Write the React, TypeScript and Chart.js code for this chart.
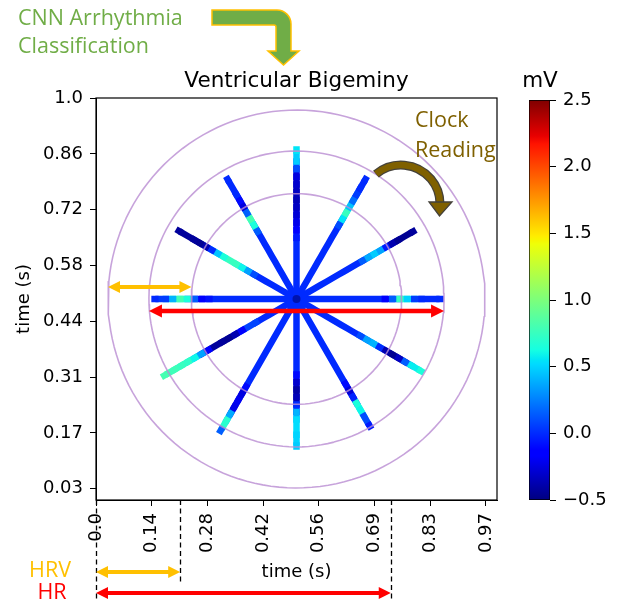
import React, { useEffect, useRef } from 'react';
import { Chart, registerables } from 'chart.js';

Chart.register(...registerables);

// ---------- axis ticks ----------
const xTickValues = [0, 0.1389, 0.2778, 0.4167, 0.5556, 0.6944, 0.8333, 0.9722];
const xTickLabels = ['0.0', '0.14', '0.28', '0.42', '0.56', '0.69', '0.83', '0.97'];
const yTickValues = [1.0, 0.8611, 0.7222, 0.5833, 0.4444, 0.3056, 0.1667, 0.0278];
const yTickLabels = ['1.0', '0.86', '0.72', '0.58', '0.44', '0.31', '0.17', '0.03'];
const colorbarTickValues = [-0.5, 0, 0.5, 1, 1.5, 2, 2.5];
const colorbarTickLabels = ['\u22120.5', '0.0', '0.5', '1.0', '1.5', '2.0', '2.5'];
const colorMin = -0.5;
const colorMax = 2.5;

// ---------- clock plot data ----------
const clockCenter = [0.5, 0.5];
const clockHours = [12, 1, 2, 3, 4, 5, 6, 7, 8, 9, 10, 11];
const spokeLengths = [0.38, 0.352, 0.344, 0.367, 0.367, 0.374, 0.375, 0.387, 0.389, 0.362, 0.347, 0.352];
// voltages (mV) sampled from the centre (first) to the spoke tip (last)
const spoke12 = [0, 0, 0, 0, 0, 0, 0, 0, 0, -0.1, -0.2, -0.25, -0.3, -0.35, -0.35, -0.3, -0.3, -0.2, 0.4, 0.55, 0.55];
const spoke1 = [0, 0, 0, 0, 0, 0, 0, 0, 0, 0, 0, 0, 0, 0.2, 0.9, 0.6, 0.3, 0.1, 0, 0, 0];
const spoke2 = [0, 0, 0, 0, 0, 0, 0, 0, 0, 0, 0, 0, 0.3, 0.45, 0.5, 0.2, -0.3, -0.45, -0.45, -0.45, -0.4];
const spoke3 = [0, 0, 0, 0, 0, 0, 0, 0, 0, 0, 0, 0, 0, -0.3, 0.6, 0.9, 0.1, 0, 0, 0, 0];
const spoke4 = [0, 0, 0, 0, 0, 0, 0, 0, 0, 0, 0, 0.2, 0.5, 0.3, -0.3, -0.45, -0.45, -0.2, 0.5, 0.65, 0.65];
const spoke5 = [0, 0, 0, 0, 0, 0, 0, 0, 0, 0, 0, 0, 0, 0, -0.2, -0.35, 0.3, 1.0, 0.2, 0, -0.1];
const spoke6 = [0, 0, 0, 0, 0, 0, 0, 0, 0, 0, 0, -0.2, -0.4, -0.4, -0.3, 0.3, 0.5, 0.55, 0.5, 0.5, 0.45];
const spoke7 = [0, 0, 0, 0, 0, 0, 0, 0, 0, 0, 0, 0, 0, 0, -0.2, -0.3, -0.1, -0.35, 1.1, 0.3, 0];
const spoke8 = [0, 0, 0, 0, 0, 0, 0, 0.15, 0, -0.3, -0.45, -0.45, -0.4, -0.45, 0.2, 0.5, 0.7, 0.75, 0.75, 0.8, 0.8];
const spoke9 = [0, 0, 0, 0, 0, 0, 0, 0, 0, 0, 0, 0, 0, -0.15, -0.1, 0.4, 0.9, 0.7, 0.1, 0, 0];
const spoke10 = [0, 0, 0, 0, 0, 0, 0, 0, 0.2, 0.5, 0.7, 0.8, 0.7, 0.6, 0.3, -0.3, -0.45, -0.45, -0.4, -0.45, -0.4];
const spoke11 = [0, 0, 0, 0, 0, 0, 0, 0, 0, 0, 0, 0, 0.3, 1.0, 0.6, -0.3, -0.2, 0, 0, 0, 0];
const spokeVoltages = [spoke12, spoke1, spoke2, spoke3, spoke4, spoke5, spoke6, spoke7, spoke8, spoke9, spoke10, spoke11];
const ringRadii = [0.47, 0.368, 0.262];

// ---------- annotation values ----------
const hrvSeconds = 0.21;
const hrSeconds = 0.735;
const hrvArrowY = 0.53;
const hrArrowY = 0.47;

// ---------- jet colormap ----------
const JET_R = [[0, 0], [0.35, 0], [0.66, 1], [0.89, 1], [1, 0.5]];
const JET_G = [[0, 0], [0.125, 0], [0.375, 1], [0.64, 1], [0.91, 0], [1, 0]];
const JET_B = [[0, 0.5], [0.11, 1], [0.34, 1], [0.65, 0], [1, 0]];
function chan(t: number, pts: number[][]) {
  for (let i = 1; i < pts.length; i++) {
    if (t <= pts[i][0]) {
      const [x0, y0] = pts[i - 1];
      const [x1, y1] = pts[i];
      return y0 + ((y1 - y0) * (t - x0)) / (x1 - x0);
    }
  }
  return pts[pts.length - 1][1];
}
function jetT(t: number) {
  const c = Math.max(0, Math.min(1, t));
  const r = Math.round(chan(c, JET_R) * 255);
  const g = Math.round(chan(c, JET_G) * 255);
  const b = Math.round(chan(c, JET_B) * 255);
  return `rgb(${r},${g},${b})`;
}
function jet(v: number) {
  return jetT((v - colorMin) / (colorMax - colorMin));
}
const JET_STOPS = [0, 0.11, 0.125, 0.34, 0.35, 0.375, 0.64, 0.65, 0.66, 0.89, 0.91, 1];

const TICK_FONT = { family: 'DejaVu Sans', size: 18 };

function doubleArrow(ctx: CanvasRenderingContext2D, x1: number, x2: number, y: number, color: string, lw: number, hl: number, hw: number) {
  ctx.save();
  ctx.strokeStyle = color;
  ctx.fillStyle = color;
  ctx.lineWidth = lw;
  ctx.beginPath();
  ctx.moveTo(x1 + hl * 0.8, y);
  ctx.lineTo(x2 - hl * 0.8, y);
  ctx.stroke();
  ctx.beginPath();
  ctx.moveTo(x1, y);
  ctx.lineTo(x1 + hl, y - hw);
  ctx.lineTo(x1 + hl, y + hw);
  ctx.closePath();
  ctx.fill();
  ctx.beginPath();
  ctx.moveTo(x2, y);
  ctx.lineTo(x2 - hl, y - hw);
  ctx.lineTo(x2 - hl, y + hw);
  ctx.closePath();
  ctx.fill();
  ctx.restore();
}

const annotPlugin = {
  id: 'annot',
  afterDatasetsDraw(chart: any) {
    const { ctx, scales } = chart;
    const x = scales.x;
    const y = scales.y;
    ctx.save();
    ctx.fillStyle = 'rgba(0,0,110,0.55)';
    ctx.beginPath();
    ctx.arc(x.getPixelForValue(clockCenter[0]), y.getPixelForValue(clockCenter[1]), 4, 0, Math.PI * 2);
    ctx.fill();
    ctx.restore();
    doubleArrow(
      ctx,
      x.getPixelForValue(clockCenter[0] - ringRadii[0]),
      x.getPixelForValue(clockCenter[0] - ringRadii[2]),
      y.getPixelForValue(hrvArrowY),
      '#ffc000', 4, 12, 6
    );
    doubleArrow(
      ctx,
      x.getPixelForValue(clockCenter[0] - ringRadii[1]),
      x.getPixelForValue(clockCenter[0] + ringRadii[1]),
      y.getPixelForValue(hrArrowY),
      '#ff0000', 4.5, 13, 6.5
    );
  },
  afterDraw(chart: any) {
    const { ctx, chartArea: ca, scales } = chart;
    const x = scales.x;
    ctx.save();
    ctx.strokeStyle = '#000';
    ctx.lineWidth = 1.2;
    ctx.strokeRect(ca.left, ca.top, ca.right - ca.left, ca.bottom - ca.top);

    ctx.fillStyle = '#000';
    ctx.textAlign = 'center';
    ctx.textBaseline = 'alphabetic';
    ctx.font = '21.5px "DejaVu Sans"';
    ctx.fillText('Ventricular Bigeminy', (ca.left + ca.right) / 2, 87);
    ctx.fillText('mV', 540, 87);
    ctx.font = '18px "DejaVu Sans"';
    ctx.fillText('time (s)', (ca.left + ca.right) / 2, 577);
    ctx.save();
    ctx.translate(29, (ca.top + ca.bottom) / 2);
    ctx.rotate(-Math.PI / 2);
    ctx.fillText('time (s)', 0, 0);
    ctx.restore();

    ctx.strokeStyle = '#000';
    ctx.lineWidth = 1.3;
    ctx.setLineDash([5, 3.5]);
    const guides = [
      [0, 600],
      [hrvSeconds, 585],
      [hrSeconds, 600],
    ];
    guides.forEach(([v, yEnd]) => {
      const px = Math.round(x.getPixelForValue(v)) + 0.5;
      ctx.beginPath();
      ctx.moveTo(px, ca.bottom);
      ctx.lineTo(px, yEnd);
      ctx.stroke();
    });
    ctx.setLineDash([]);

    doubleArrow(ctx, x.getPixelForValue(0), x.getPixelForValue(hrvSeconds), 572, '#ffc000', 4, 12, 6);
    doubleArrow(ctx, x.getPixelForValue(0), x.getPixelForValue(hrSeconds), 593, '#ff0000', 4, 12, 6);

    ctx.font = '21.5px "Open Sans"';
    ctx.textAlign = 'center';
    ctx.fillStyle = '#ffc000';
    ctx.fillText('HRV', 50, 577);
    ctx.fillStyle = '#ff0000';
    ctx.fillText('HR', 52, 599);

    ctx.textAlign = 'left';
    ctx.fillStyle = '#70ad47';
    ctx.fillText('CNN Arrhythmia', 18, 25);
    ctx.fillText('Classification', 18, 53);

    ctx.fillStyle = '#7f6000';
    ctx.fillText('Clock', 415, 127);
    ctx.fillText('Reading', 415, 157);

    // green elbow arrow
    ctx.beginPath();
    ctx.moveTo(212, 10);
    ctx.lineTo(277, 10);
    ctx.arcTo(291, 10, 291, 24, 14);
    ctx.lineTo(291, 51);
    ctx.lineTo(299, 51);
    ctx.lineTo(283.5, 65);
    ctx.lineTo(268, 51);
    ctx.lineTo(276, 51);
    ctx.lineTo(276, 27);
    ctx.arcTo(276, 25, 274, 25, 2);
    ctx.lineTo(212, 25);
    ctx.closePath();
    ctx.fillStyle = '#70ad47';
    ctx.fill();
    ctx.strokeStyle = '#ffc000';
    ctx.lineWidth = 1.5;
    ctx.stroke();

    // curved clock arrow
    const cx = 401, cy = 204, r = 39;
    const a0 = Math.atan2(173 - cy, 375 - cx);
    ctx.lineCap = 'butt';
    ctx.strokeStyle = '#44413a';
    ctx.lineWidth = 9;
    ctx.beginPath();
    ctx.arc(cx, cy, r, a0, -0.02);
    ctx.stroke();
    ctx.strokeStyle = '#7f6000';
    ctx.lineWidth = 6.5;
    ctx.beginPath();
    ctx.arc(cx, cy, r, a0 + 0.01, -0.01);
    ctx.stroke();
    ctx.beginPath();
    ctx.moveTo(429, 202);
    ctx.lineTo(452, 202);
    ctx.lineTo(439.5, 216);
    ctx.closePath();
    ctx.fillStyle = '#7f6000';
    ctx.fill();
    ctx.strokeStyle = '#44413a';
    ctx.lineWidth = 1.3;
    ctx.stroke();

    ctx.restore();
  },
};

function buildSpokeDatasets() {
  return clockHours.map((h, i) => {
    const ang = (h * Math.PI) / 6;
    const L = spokeLengths[i];
    const vs = spokeVoltages[i];
    const n = vs.length - 1;
    const data = vs.map((v, k) => ({
      x: clockCenter[0] + (k / n) * L * Math.sin(ang),
      y: clockCenter[1] + (k / n) * L * Math.cos(ang),
      v,
    }));
    return {
      data,
      showLine: true,
      borderWidth: 6.5,
      borderCapStyle: 'butt',
      borderJoinStyle: 'miter',
      pointRadius: 0,
      borderColor: jet(vs[0]),
      order: 1,
      segment: {
        borderColor: (c: any) => jet((data[c.p0DataIndex].v + data[c.p1DataIndex].v) / 2),
        borderCapStyle: (c: any) => (c.p1DataIndex === n ? 'butt' : 'square'),
      },
    };
  });
}

function buildRingDatasets() {
  return ringRadii.map((r) => ({
    data: Array.from({ length: 145 }, (_, k) => {
      const a = (k / 144) * Math.PI * 2 + 0.3;
      return { x: clockCenter[0] + r * Math.cos(a), y: clockCenter[1] + r * Math.sin(a) };
    }),
    showLine: true,
    borderWidth: 1.6,
    borderColor: 'rgba(185,140,210,0.8)',
    borderCapStyle: 'round',
    borderJoinStyle: 'round',
    pointRadius: 0,
    order: 0,
  }));
}

function colorbarFill(c: any) {
  const chart = c.chart;
  const ys = chart && chart.scales && chart.scales.y;
  if (!ys) return jet(0);
  const y0 = ys.getPixelForValue(colorMin);
  const y1 = ys.getPixelForValue(colorMax);
  if (!isFinite(y0) || !isFinite(y1) || y0 === y1) return jet(0);
  const g = chart.ctx.createLinearGradient(0, y0, 0, y1);
  JET_STOPS.forEach((t) => g.addColorStop(t, jetT(t)));
  return g;
}

export default function App() {
  const mainRef = useRef<HTMLCanvasElement>(null);
  const barRef = useRef<HTMLCanvasElement>(null);

  useEffect(() => {
    const main = new Chart(mainRef.current as HTMLCanvasElement, {
      type: 'scatter',
      data: { datasets: [...buildRingDatasets(), ...buildSpokeDatasets()] as any },
      options: {
        responsive: false,
        animation: false,
        devicePixelRatio: 1,
        events: [],
        layout: { padding: { left: 36, top: 98, right: 121, bottom: 40 } },
        plugins: { legend: { display: false }, tooltip: { enabled: false } },
        scales: {
          x: {
            type: 'linear',
            min: 0,
            max: 1,
            position: 'bottom',
            afterBuildTicks: (s: any) => {
              s.ticks = xTickValues.map((value) => ({ value }));
            },
            afterFit: (s: any) => {
              s.height = 60;
            },
            ticks: {
              autoSkip: false,
              minRotation: 90,
              maxRotation: 90,
              padding: 7,
              color: '#000',
              font: TICK_FONT,
              callback: (_v: any, i: number) => xTickLabels[i],
            },
            grid: { display: true, drawOnChartArea: false, drawTicks: true, tickLength: 6, color: '#000', lineWidth: 1 },
            border: { display: true, color: '#000', width: 1 },
          },
          y: {
            type: 'linear',
            min: 0,
            max: 1,
            afterBuildTicks: (s: any) => {
              s.ticks = yTickValues.map((value) => ({ value }));
            },
            afterFit: (s: any) => {
              s.width = 60;
            },
            ticks: {
              autoSkip: false,
              padding: 7,
              color: '#000',
              font: TICK_FONT,
              callback: (_v: any, i: number) => yTickLabels[i],
            },
            grid: { display: true, drawOnChartArea: false, drawTicks: true, tickLength: 6, color: '#000', lineWidth: 1 },
            border: { display: true, color: '#000', width: 1 },
          },
        },
      } as any,
      plugins: [annotPlugin],
    });

    const bar = new Chart(barRef.current as HTMLCanvasElement, {
      type: 'bar',
      data: {
        labels: ['mV'],
        datasets: [
          {
            data: [[colorMin, colorMax]] as any,
            backgroundColor: colorbarFill,
            borderColor: '#000',
            borderWidth: 1,
            borderSkipped: false,
            barPercentage: 1,
            categoryPercentage: 1,
          },
        ],
      },
      options: {
        responsive: false,
        animation: false,
        devicePixelRatio: 1,
        events: [],
        layout: { padding: { left: 29, top: 100, right: 8, bottom: 100 } },
        plugins: { legend: { display: false }, tooltip: { enabled: false } },
        scales: {
          x: { display: false },
          y: {
            type: 'linear',
            min: colorMin,
            max: colorMax,
            position: 'right',
            afterBuildTicks: (s: any) => {
              s.ticks = colorbarTickValues.map((value) => ({ value }));
            },
            afterFit: (s: any) => {
              s.width = 60;
            },
            ticks: {
              autoSkip: false,
              padding: 7,
              color: '#000',
              font: TICK_FONT,
              callback: (_v: any, i: number) => colorbarTickLabels[i],
            },
            grid: { display: true, drawOnChartArea: false, drawTicks: true, tickLength: 6, color: '#000', lineWidth: 1 },
            border: { display: false },
          },
        },
      } as any,
    });
    bar.update();

    return () => {
      main.destroy();
      bar.destroy();
    };
  }, []);

  return (
    <div style={{ position: 'absolute', left: 0, top: 0, width: 618, height: 600, background: '#fff' }}>
      <canvas ref={mainRef} width={618} height={600} style={{ position: 'absolute', left: 0, top: 0 }} />
      <canvas ref={barRef} width={118} height={600} style={{ position: 'absolute', left: 500, top: 0 }} />
    </div>
  );
}
